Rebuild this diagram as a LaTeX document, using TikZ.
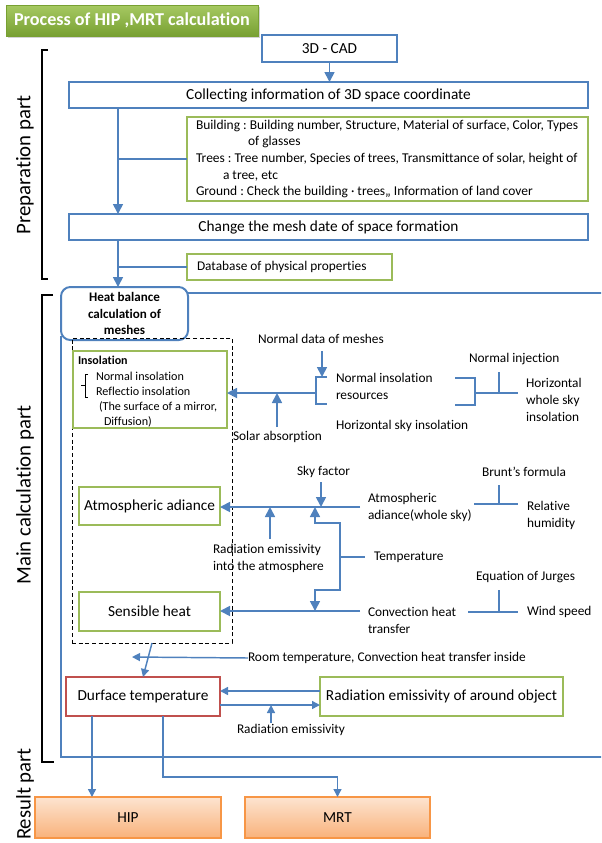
\documentclass[tikz,border=0pt]{standalone}
\usepackage{fontspec}
\setmainfont{Carlito}[Ligatures={NoCommon}]
\usetikzlibrary{arrows.meta,fit,shadows}
\definecolor{bl}{HTML}{4F81BD}
\definecolor{gr}{HTML}{9BBB59}
\definecolor{rd}{HTML}{C0504D}
\definecolor{orb}{HTML}{F79646}
\definecolor{ortop}{HTML}{FDE4D0}
\definecolor{orbot}{HTML}{F9B27B}
\definecolor{gtop}{HTML}{A6C962}
\definecolor{gbot}{HTML}{78A032}
\begin{document}
\frenchspacing
\begin{tikzpicture}[x=0.75pt,y=-0.75pt,
 every node/.style={inner sep=0pt,outer sep=0pt},
 big/.style={font=\fontsize{11.5}{14}\selectfont},
 bbox/.style={draw=bl,line width=1.5pt,fill=white},
 gbox/.style={draw=gr,line width=1.5pt,fill=white},
 rbox/.style={draw=rd,line width=1.5pt,fill=white},
 obox/.style={draw=orb,line width=0.8pt,top color=ortop,bottom color=orbot},
 lbl/.style={anchor=west,align=left,font=\fontsize{10}{12.75}\selectfont},
 small/.style={anchor=west,align=left,font=\fontsize{10.1}{12.4}\selectfont},
 side/.style={rotate=90,font=\fontsize{15.6}{18}\selectfont},
 arr/.style={draw=bl,line width=1.3pt,-{Triangle[length=7.5pt,width=7.5pt]}},
 sarr/.style={draw=bl,line width=1.1pt,-{Triangle[length=6pt,width=6pt]}},
 ln/.style={draw=bl,line width=1pt},
 brk/.style={draw=black,line width=1.6pt},
]
\useasboundingbox (0,0) rectangle (601,843);
\clip (0,0) rectangle (601,843);

% title
\node[fit={(6,5)(258,36)},top color=gtop,bottom color=gbot,draw=gbot,line width=0.5pt,
  drop shadow={shadow xshift=1.5pt,shadow yshift=-1.5pt,opacity=0.35}] (title) {};
\node[text=white,font=\fontsize{13.6}{16}\selectfont\bfseries] (titlet) at (title.center) {Process of HIP ,MRT calculation};

% side brackets and labels
\draw[brk] (48,50) -- (42,50) -- (42,279) -- (48,279);
\draw[brk] (53,295) -- (42,295) -- (42,762) -- (54,762);
\node[side] (lp) at (25,165) {Preparation part};
\node[side] (lm) at (25,495) {Main calculation part};
\node[side] (lr) at (25,794) {Result part};

% preparation part
\node[bbox,fit={(262,35)(397,62)}] (cad) {};
\node[big] (cadt) at (cad.center) {3D - CAD};
\node[bbox,fit={(69,82)(588,108)}] (col) {};
\node[big] (colt) at (col.center) {Collecting information of 3D space coordinate};
\node[gbox,fit={(187,117)(588,201)}] (bld) {};
\node[small] (b1) at (196,126) {Building : Building number, Structure, Material of surface, Color, Types};
\node[small] (b2) at (248,142) {of glasses};
\node[small] (b3) at (196,159) {Trees : Tree number, Species of trees, Transmittance of solar, height of};
\node[small] (b4) at (223,176) {a tree, etc};
\node[small] (b5) at (196,192) {Ground : Check the building · trees,, Information of land cover};
\node[bbox,fit={(69,214)(588,240)}] (chg) {};
\node[big] (chgt) at (chg.center) {Change the mesh date of space formation};
\node[gbox,fit={(187,254)(392,280)}] (db) {};
\node[lbl] (dbt) at (197,267) {Database of physical properties};

\coordinate (vx) at (118,0);
\draw[arr] (cad.south) -- (cad.south |- col.north);
\draw[arr] (col.south -| vx) -- (chg.north -| vx);
\draw[ln] (bld.west -| vx) -- (bld.west);
\draw[ln] (db.west -| vx) -- (db.west);

% main frame
\coordinate (ftop) at (610,293);
\coordinate (fbot) at (610,757);
\node[draw=bl,line width=1.5pt,fill=white,rounded corners=7pt,fit={(61,287)(188,340)}] (heat) {};
\node[align=center,font=\fontsize{9.8}{12.4}\selectfont\bfseries] (heatt) at (heat.center) {Heat balance\\calculation of\\meshes};
\draw[bl,line width=1.5pt] (heat.east |- ftop) -- (ftop);
\draw[bl,line width=1.5pt] ([yshift=3pt]heat.south west) -- (heat.west |- fbot) -- (fbot);
\draw[arr] (chg.south -| vx) -- (heat.north -| vx);

% dashed group
\node[draw=black,line width=0.7pt,dash pattern=on 3pt off 2pt,fit={(72,338)(232,643)}] (dsh) {};

% insolation
\node[gbox,fit={(73,351)(227,428)}] (ins) {};
\node[anchor=west,font=\fontsize{9}{11}\selectfont\bfseries] (inst) at (78,360) {Insolation};
\node[anchor=west,font=\fontsize{9.1}{11}\selectfont] (in1) at (96,376) {Normal insolation};
\node[anchor=west,font=\fontsize{9.1}{11}\selectfont] (in2) at (96,391) {Reflectio insolation};
\node[anchor=west,font=\fontsize{9.1}{11}\selectfont] (in3) at (99,407) {(The surface of a mirror,};
\node[anchor=west,font=\fontsize{9.1}{11}\selectfont] (in4) at (104,422) {Diffusion)};
\draw[black,line width=0.6pt] (88,374) -- (85,374) -- (85,397) -- (88,397) (85,385.5) -- (81,385.5);

\node[lbl] (ndm) at (258,339) {Normal data of meshes};
\coordinate (nbt) at (316,377);
\coordinate (nbm) at (316,393);
\coordinate (nbb) at (316,404);
\draw[ln] (327,377) -- (nbt) -- (nbb) -- (327,404);
\coordinate (ndmA) at (322,351);
\draw[arr] (ndmA) -- (ndmA |- nbt);
\draw[arr] (nbm) -- (nbm -| ins.east);
\node[lbl] (sa) at (233,437) {Solar absorption};
\coordinate (saA) at (277,427);
\draw[arr] (saA) -- (saA |- nbm);
\node[lbl] (nir) at (336,386.5) {Normal insolation\\resources};
\node[lbl] (hsi) at (336,426) {Horizontal sky insolation};
\draw[ln] (455,378) -- (475,378) -- (475,405) -- (455,405);
\draw[ln] (475,393) -- (518,393);
\draw[ln] (499,372) -- (499,393);
\node[lbl] (ni) at (469,359) {Normal injection};
\node[lbl] (hws) at (526,400) {Horizontal\\whole sky\\insolation};

% atmospheric
\node[gbox,fit={(79,487)(220,525)}] (atm) {};
\node[big] (atmt) at (atm.center) {Atmospheric adiance};
\node[lbl] (sky) at (297,472) {Sky factor};
\coordinate (skyA) at (321,482);
\coordinate (atmR) at (360,507);
\draw[arr] (atmR) -- (atmR -| atm.east);
\draw[arr] (skyA) -- (skyA |- atmR);
\node[lbl] (rea) at (213,558.5) {Radiation emissivity\\into the atmosphere};
\coordinate (reaA) at (270,539);
\draw[arr] (reaA) -- (reaA |- atmR);
\node[lbl] (aws) at (368,507.5) {Atmospheric\\adiance(whole sky)};
\coordinate (lpA) at (315,507);
\coordinate (lpB) at (315,611);
\draw[draw=bl,line width=1.3pt,{Triangle[length=7.5pt,width=7.5pt]}-{Triangle[length=7.5pt,width=7.5pt]}]
  (lpA) -- (315,523) -- (340,523) -- (340,590) -- (315,590) -- (lpB);
\draw[ln] (340,557) -- (365,557);
\node[lbl] (tmp) at (374,557) {Temperature};
\draw[ln] (474,504) -- (518,504);
\draw[ln] (499,485) -- (499,504);
\node[lbl] (brf) at (482,472) {Brunt’s formula};
\node[lbl] (rh) at (527,515) {Relative\\humidity};

% sensible
\node[gbox,fit={(79,592)(220,631)}] (sen) {};
\node[big] (sent) at (sen.center) {Sensible heat};
\coordinate (senR) at (360,611);
\draw[arr] (senR) -- (senR -| sen.east);
\node[lbl] (cht) at (368,620) {Convection heat\\transfer};
\draw[ln] (468,612) -- (518,612);
\draw[ln] (499,590) -- (499,612);
\node[lbl] (eoj) at (476,577) {Equation of Jurges};
\node[lbl] (ws) at (527,612) {Wind speed};

% bottom
\node[rbox,fit={(66,677)(220,716)}] (dur) {};
\node[big] (durt) at (dur.center) {Durface temperature};
\node[gbox,fit={(320,677)(563,716)}] (rob) {};
\node[big] (robt) at (rob.center) {Radiation emissivity of around object};
\draw[sarr] (dsh.south) -- (dur.north);
\node[lbl] (rt) at (248,658) {Room temperature, Convection heat transfer inside};
\coordinate (rtE) at (132,657);
\draw[sarr] (rt.west) -- (rtE);
\coordinate (ya) at (0,691);
\coordinate (yb) at (0,705);
\draw[sarr] (rob.west |- ya) -- (dur.east |- ya);
\draw[sarr] (dur.east |- yb) -- (rob.west |- yb);
\node[lbl] (re) at (237,730) {Radiation emissivity};
\coordinate (reA) at (271,723);
\draw[sarr] (reA) -- (reA |- yb);

% results
\node[obox,fit={(35,797)(221,838)}] (hip) {};
\node[big] (hipt) at (hip.center) {HIP};
\node[obox,fit={(245,797)(430,838)}] (mrt) {};
\node[big] (mrtt) at (mrt.center) {MRT};
\coordinate (hx) at (92,0);
\coordinate (mx) at (163,0);
\coordinate (my) at (0,777);
\draw[sarr] (dur.south -| hx) -- (hip.north -| hx);
\draw[sarr,line width=1pt] (dur.south -| mx) -- (mx |- my) -- (mrt.north |- my) -- (mrt.north);
\end{tikzpicture}
\end{document}
